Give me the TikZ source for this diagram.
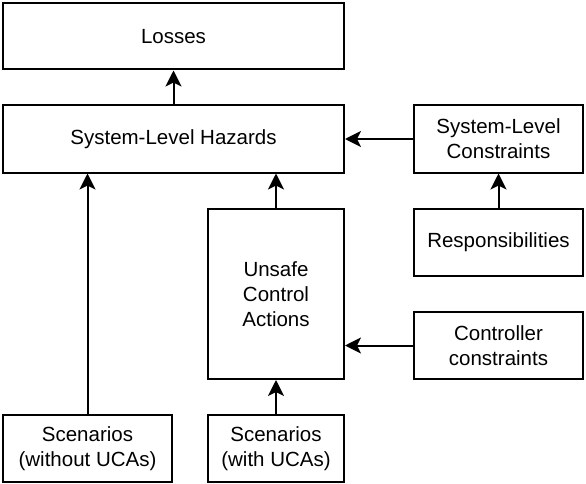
\documentclass[tikz,border=0pt]{standalone}
\usepackage{fontspec}
\setmainfont{Liberation Sans}
\usetikzlibrary{arrows.meta}

\tikzset{
	box/.style={draw, line width=2pt, align=center, inner sep=0pt,
		font=\fontsize{20.5}{25}\selectfont},
	flow/.style={line width=2pt, -{Stealth[length=16pt, width=16pt, inset=4pt]}}
}

\begin{document}
\begin{tikzpicture}[x=1pt, y=-1pt]
		\useasboundingbox (0,0) rectangle (586,484);

		\node[box, minimum width=341, minimum height=66] (losses)  at (173.5, 36.5) {Losses};
		\node[box, minimum width=341, minimum height=67] (hazards) at (173.5,139)   {System-Level Hazards};
		\node[box, minimum width=169, minimum height=67] (slcons)  at (498.5,139)   {System-Level\\Constraints};
		\node[box, minimum width=169, minimum height=67] (resp)    at (498.5,242.5) {Responsibilities};
		\node[box, minimum width=136, minimum height=170] (uca)    at (276,  294)   {Unsafe\\Control\\Actions};
		\node[box, minimum width=169, minimum height=67] (ctrl)    at (498.5,345.5) {Controller\\constraints};
		\node[box, minimum width=169, minimum height=67] (scenwo)  at (87.5, 448.5) {Scenarios\\(without UCAs)};
		\node[box, minimum width=136, minimum height=67] (scenw)   at (276,  448.5) {Scenarios\\(with UCAs)};

		\draw[flow] (hazards) -- (losses);
		\draw[flow] (slcons) -- (hazards);
		\draw[flow] (resp) -- (slcons);
		\draw[flow] (uca.north) -- (uca.north |- hazards.south);
		\draw[flow] (ctrl.west) -- (ctrl.west -| uca.east);
		\draw[flow] (scenw) -- (uca);
		\draw[flow] (scenwo.north) -- (scenwo.north |- hazards.south);
	\end{tikzpicture}
\end{document}
